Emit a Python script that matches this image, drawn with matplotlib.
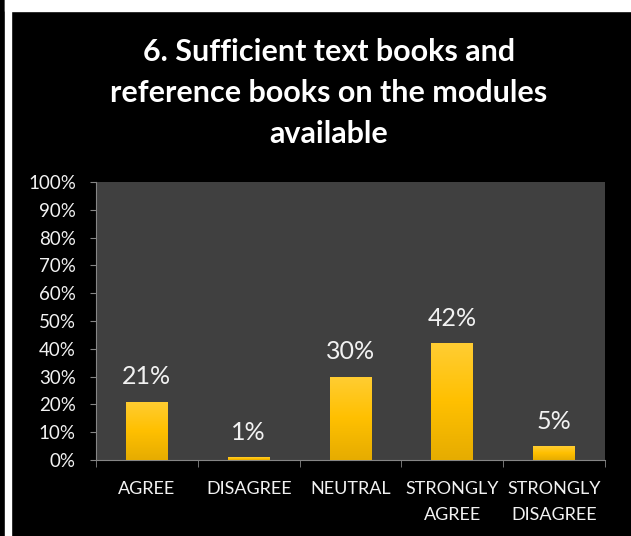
import matplotlib.pyplot as plt
import numpy as np
from matplotlib.patches import Rectangle
from matplotlib.colors import LinearSegmentedColormap

categories = ['AGREE', 'DISAGREE', 'NEUTRAL', 'STRONGLY\nAGREE', 'STRONGLY\nDISAGREE']
values = [21, 1, 30, 42, 5]
yticks = [0, 10, 20, 30, 40, 50, 60, 70, 80, 90, 100]

plt.rcParams['font.family'] = ['Lato', 'DejaVu Sans']
W, H = 631, 536
fig = plt.figure(figsize=(W / 100, H / 100), dpi=100, facecolor='black')

# white stripes: left and top of the frame
fig.patches.append(Rectangle((5 / W, 0), 6 / W, 1.01, transform=fig.transFigure, color='white', zorder=-5))
fig.patches.append(Rectangle((5 / W, 1 - 11 / H), 1, 1, transform=fig.transFigure, color='white', zorder=-5))

ax = fig.add_axes([96 / W, 1 - 460 / H, (605 - 96) / W, (460 - 182) / H])
ax.set_facecolor('#404040')

x = np.arange(len(categories))
bars = ax.bar(x, values, width=0.41, color='#FFC000', zorder=2)

# yellow gradient on every bar
cmap = LinearSegmentedColormap.from_list('gold', ['#E6AC00', '#FFC000', '#FFCD33'])
grad = np.linspace(0, 1, 256).reshape(-1, 1)
for b in bars:
    im = ax.imshow(grad, cmap=cmap, aspect='auto', origin='lower', zorder=3,
                   extent=[b.get_x(), b.get_x() + b.get_width(), 0, b.get_height()])
    im.set_clip_path(b)

for xi, v in zip(x, values):
    ax.annotate(f'{v}%', (xi, v), xytext=(0, 18), textcoords='offset points',
                ha='center', va='center', color='#F2F2F2', fontsize=18)

ax.set_xlim(-0.5, len(categories) - 0.5)
ax.set_ylim(0, 100)
ax.set_yticks(yticks)
ax.set_yticklabels([f'{t}%' for t in yticks], color='#F2F2F2', fontsize=13.5)
ax.set_xticks(x)
ax.set_xticklabels(categories, color='#F2F2F2', fontsize=13, linespacing=1.75)
ax.set_xticks(np.arange(-0.5, len(categories)), minor=True)
ax.tick_params(axis='x', which='major', length=0, pad=15)
ax.tick_params(axis='x', which='minor', length=5, color='#868686', direction='out')
ax.tick_params(axis='y', length=4.5, color='#868686', pad=10)
for s in ['top', 'right']:
    ax.spines[s].set_visible(False)
for s in ['left', 'bottom']:
    ax.spines[s].set_color('#868686')

fig.text(329 / W, 1 - 93 / H, '6. Sufficient text books and\nreference books on the modules\navailable',
         ha='center', va='center', color='white', fontsize=22, fontweight='bold', linespacing=1.55)

plt.savefig('out.png', dpi=100, facecolor=fig.get_facecolor())
